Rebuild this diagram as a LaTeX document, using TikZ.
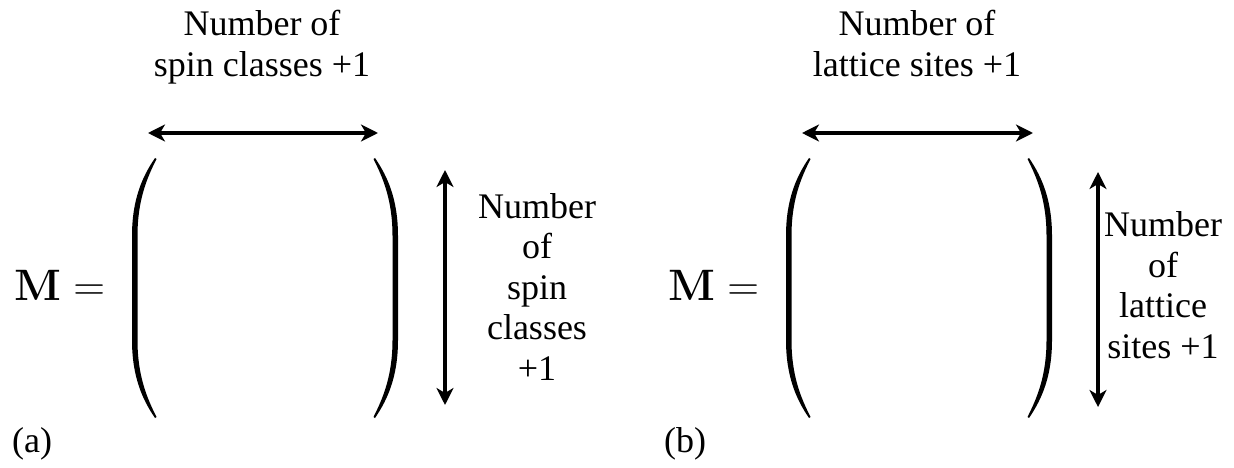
\RequirePackage{fix-cm}
\documentclass[tikz,border=0pt]{standalone}
\usepackage[no-math]{fontspec}
\setmainfont{Liberation Serif}
\usetikzlibrary{arrows.meta}
\newcommand\parenL[1]{\fill ({#1+23},158) .. controls ({#1+10},177) and (#1,200) .. (#1,236) -- (#1,340) .. controls (#1,376) and ({#1+10},399) .. ({#1+23},418) -- ({#1+24.5},417) .. controls ({#1+15},398) and ({#1+5.5},376) .. ({#1+5.5},340) -- ({#1+5.5},236) .. controls ({#1+5.5},200) and ({#1+15},178) .. ({#1+24.5},159) -- cycle;}
\newcommand\parenR[1]{\fill ({#1-23},158) .. controls ({#1-10},177) and (#1,200) .. (#1,236) -- (#1,340) .. controls (#1,376) and ({#1-10},399) .. ({#1-23},418) -- ({#1-24.5},417) .. controls ({#1-15},398) and ({#1-5.5},376) .. ({#1-5.5},340) -- ({#1-5.5},236) .. controls ({#1-5.5},200) and ({#1-15},178) .. ({#1-24.5},159) -- cycle;}
\begin{document}
\begin{tikzpicture}[x=1pt,y=-1pt,
  lbl/.style={font=\fontsize{36}{40.5}\selectfont, align=center, inner sep=0pt, anchor=base},
  toplbl/.style={font=\fontsize{36}{41}\selectfont, align=center, inner sep=0pt, anchor=base},
  eqn/.style={font=\fontsize{44}{50}\selectfont, inner sep=0pt, anchor=base west},
  tag/.style={font=\fontsize{36}{40}\selectfont, inner sep=0pt, anchor=base west},
  dbl/.style={{Stealth[length=17pt,width=17pt,inset=5pt]}-{Stealth[length=17pt,width=17pt,inset=5pt]}, line width=3.2pt}]
\useasboundingbox (0,0) rectangle (1234,468);
% panel (a)
\node[toplbl] (ta) at (262,77) {Number of\\spin classes +1};
\coordinate (ha1) at (148,133);
\coordinate (ha2) at (378,133);
\draw[dbl] (ha1) -- (ha2);
\node[eqn] (Ma) at (14,300) {$\mathbf{M}=$};
\parenL{132}
\parenR{398}
\coordinate (va1) at (445,170);
\coordinate (va2) at (445,405);
\draw[dbl] (va1) -- (va2);
\node[lbl] (ra) at (537,380) {Number\\of\\spin\\classes\\+1};
\node[tag] (tagA) at (12,452) {(a)};
% panel (b)
\node[toplbl] (tb) at (917,77) {Number of\\lattice sites +1};
\coordinate (hb1) at (802,133);
\coordinate (hb2) at (1033,133);
\draw[dbl] (hb1) -- (hb2);
\node[eqn] (Mb) at (668,300) {$\mathbf{M}=$};
\parenL{786}
\parenR{1052}
\coordinate (vb1) at (1098,172);
\coordinate (vb2) at (1098,407);
\draw[dbl] (vb1) -- (vb2);
\node[lbl] (rb) at (1163,358) {Number\\of\\lattice\\sites +1};
\node[tag] (tagB) at (664,452) {(b)};
\end{tikzpicture}
\end{document}
